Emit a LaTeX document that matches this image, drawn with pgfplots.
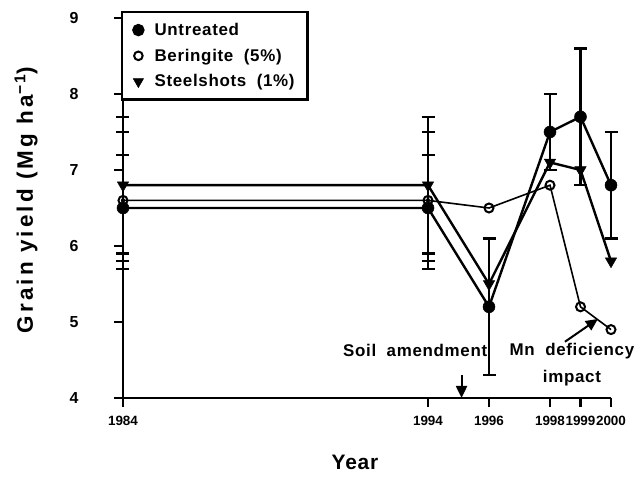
\documentclass[border=0pt]{standalone}
\usepackage{fontspec}
\setmainfont{Liberation Sans}
\newfontfamily\spfont{Liberation Sans}[LetterSpace=4]
\newfontfamily\ylfont{Liberation Sans}[LetterSpace=14]
\usepackage{pgfplots}
\pgfplotsset{compat=1.18}
\usetikzlibrary{arrows.meta}
\begin{document}
\begin{tikzpicture}
\useasboundingbox (-123bp,-79bp) rectangle (511bp,398bp);
\begin{axis}[
  at={(0,0)}, anchor=south west,
  scale only axis, width=488bp, height=380bp,
  xmin=1984, xmax=2000, ymin=4, ymax=9,
  clip=false,
  axis x line*=bottom, axis y line*=left,
  axis line style={line width=2.8bp, -},
  tick align=outside, major tick length=9bp,
  tick style={line width=2.4bp, black},
  xtick={1984,1994,1996,1998,1999,2000},
  ytick={4,5,6,7,8,9},
  /pgf/number format/assume math mode=true,
  /pgf/number format/set thousands separator={},
  xticklabel style={font=\bfseries\fontsize{13.5}{13.5}\selectfont, yshift=-6bp},
  yticklabel style={font=\bfseries\fontsize{16}{16}\selectfont, xshift=-32bp},
  xlabel={Year},
  ylabel={Grain yield (Mg ha\textsuperscript{−1})},
  every axis x label/.style={at={(axis description cs:0.5,0)}, anchor=center, yshift=-64bp, xshift=-12bp, font=\spfont\bfseries\fontsize{21}{21}\selectfont},
  every axis y label/.style={at={(axis description cs:0,0.5)}, anchor=center, xshift=-97bp, yshift=8bp, rotate=90, font=\ylfont\bfseries\fontsize{22.5}{22.5}\selectfont},
  legend cell align=left,
  legend style={at={(rel axis cs:0,1)}, anchor=north west, xshift=-2bp, yshift=7bp,
    draw=black, line width=2.4bp, font=\spfont\bfseries\fontsize{17}{17}\selectfont,
    row sep=8bp, inner xsep=11bp, inner ysep=9bp,
    /tikz/every odd column/.append style={column sep=9bp}},
]
\addlegendimage{only marks, mark=*, mark size=5bp, black}
\addlegendentry{Untreated}
\addlegendimage{only marks, mark=o, mark size=4.3bp, line width=2bp, black}
\addlegendentry{Beringite\hspace{0.3em} (5\%)}
\addlegendimage{only marks, mark=triangle*, mark size=6bp, line width=0.5bp, black, mark options={rotate=180}}
\addlegendentry{Steelshots\hspace{0.3em} (1\%)}

% Beringite
\addplot[forget plot, black, line width=1.6bp, mark=o, mark size=4.5bp, mark options={line width=2bp, fill=white}]
  coordinates {(1984,6.6) (1994,6.6) (1996,6.5) (1998,6.8) (1999,5.2) (2000,4.9)};
\addplot[forget plot, only marks, mark=none, black,
  error bars/.cd, y dir=both, y explicit,
  error bar style={line width=2.4bp, black},
  error mark options={rotate=90, mark size=6.5bp, line width=2.4bp, black}]
  coordinates {(1984,6.6) +- (0,0.9) (1994,6.6) +- (0,0.9)};
% Steelshots
\addplot[forget plot, black, line width=2.4bp, mark=triangle*, mark size=6.5bp, mark options={rotate=180, line width=0.5bp}]
  coordinates {(1984,6.8) (1994,6.8) (1996,5.5) (1998,7.1) (1999,7.0) (2000,5.8)};
\addplot[forget plot, only marks, mark=none, black,
  error bars/.cd, y dir=both, y explicit,
  error bar style={line width=2.4bp, black},
  error mark options={rotate=90, mark size=6.5bp, line width=2.4bp, black}]
  coordinates {(1984,6.8) +- (0,0.9) (1994,6.8) +- (0,0.9)};
% Untreated
\addplot[forget plot, black, line width=2.4bp, mark=*, mark size=6bp, mark options={line width=0.5bp},
  error bars/.cd, y dir=both, y explicit,
  error bar style={line width=2.4bp, black},
  error mark options={rotate=90, mark size=6.5bp, line width=2.4bp, black}]
  coordinates {(1984,6.5) +- (0,0.7) (1994,6.5) +- (0,0.7) (1996,5.2) +- (0,0.9)
               (1998,7.5) +- (0,0.5) (1999,7.7) +- (0,0.9) (2000,6.8) +- (0,0.7)};

\node[font=\spfont\bfseries\fontsize{17}{17}\selectfont] at (axis cs:1993.58,4.62) {Soil\hspace{0.3em} amendment};
\node[font=\spfont\bfseries\fontsize{17}{17}\selectfont] at (axis cs:1998.72,4.62) {Mn\hspace{0.3em} deficiency};
\node[font=\spfont\bfseries\fontsize{17}{17}\selectfont] at (axis cs:1998.72,4.26) {impact};
\coordinate (s1) at (axis cs:1995.1,4.30);
\coordinate (s2) at (axis cs:1995.1,4.0);
\coordinate (m1) at (axis cs:1998.49,4.74);
\coordinate (m2) at (axis cs:1999.57,5.04);
\end{axis}
\draw[line width=2bp, -{Triangle[length=12bp,width=11bp]}] (s1) -- (s2);
\draw[line width=2bp, -{Triangle[length=12bp,width=11bp]}] (m1) -- (m2);
\end{tikzpicture}
\end{document}
